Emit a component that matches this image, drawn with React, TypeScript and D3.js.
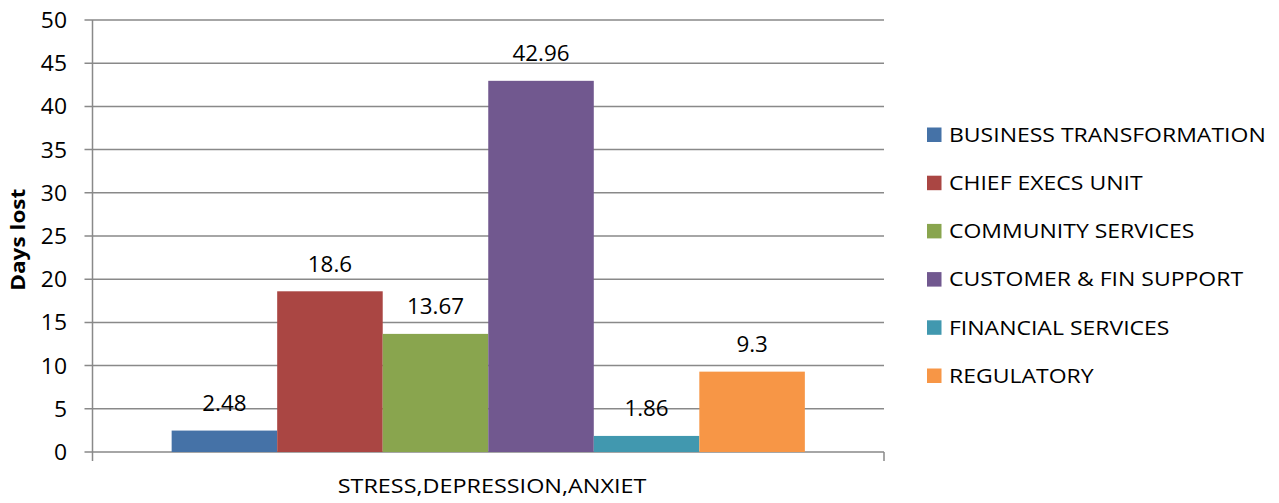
import React from "react";
import * as d3 from "d3";

// Sickness absence: days lost to stress, depression and anxiety, by service area
const category = "STRESS,DEPRESSION,ANXIET";
const departments = [
  "BUSINESS TRANSFORMATION",
  "CHIEF EXECS UNIT",
  "COMMUNITY SERVICES",
  "CUSTOMER & FIN SUPPORT",
  "FINANCIAL SERVICES",
  "REGULATORY",
];
const daysLost = [2.48, 18.6, 13.67, 42.96, 1.86, 9.3];
const valueLabels = ["2.48", "18.6", "13.67", "42.96", "1.86", "9.3"];
const yTicks = [0, 5, 10, 15, 20, 25, 30, 35, 40, 45, 50];
const colors = ["#4572A7", "#AA4643", "#89A54E", "#71588F", "#4198AF", "#F79646"];

const W = 1279;
const H = 503;
const plot = { left: 92.5, right: 884, top: 20, bottom: 452 };
const FONT = "'Open Sans', 'Noto Sans', sans-serif";
const GRID = "#898989";

// Text widened along its own baseline direction
function WideText({
  x,
  y,
  sx,
  rotate = 0,
  anchor = "start",
  size,
  weight = "normal",
  children,
}: {
  x: number;
  y: number;
  sx: number;
  rotate?: number;
  anchor?: "start" | "middle" | "end";
  size: number;
  weight?: string;
  children: React.ReactNode;
}) {
  return (
    <text
      transform={`translate(${x},${y}) rotate(${rotate}) scale(${sx},1)`}
      textAnchor={anchor}
      fontSize={size}
      fontWeight={weight}
      fill="#000"
    >
      {children}
    </text>
  );
}

export default function App() {
  const y = d3.scaleLinear().domain([0, 50]).range([plot.bottom, plot.top]);

  // One category band; bars sit in the middle with a 150% gap split on both sides
  const x0 = d3.scaleBand<string>().domain([category]).range([plot.left, plot.right]);
  const groupW = x0.bandwidth() / (1 + 1.5 / departments.length);
  const groupStart = (x0(category) ?? 0) + (x0.bandwidth() - groupW) / 2;
  const x1 = d3
    .scaleBand<string>()
    .domain(departments)
    .range([groupStart, groupStart + groupW])
    .padding(0);

  const legendX = 927;
  const legendY = d3.scalePoint<string>().domain(departments).range([134.5, 375.5]);

  return (
    <svg
      width={W}
      height={H}
      style={{ position: "absolute", left: 0, top: 0, background: "#fff" }}
      fontFamily={FONT}
    >
      {/* horizontal gridlines with left tick marks */}
      {yTicks.map((t) => (
        <g key={t}>
          <line
            x1={plot.left - 8}
            x2={plot.right}
            y1={y(t)}
            y2={y(t)}
            stroke={GRID}
            strokeWidth={1.5}
          />
          <WideText x={67} y={y(t) + 8} sx={1.04} anchor="end" size={22}>
            {t}
          </WideText>
        </g>
      ))}

      {/* value axis */}
      <line x1={plot.left} x2={plot.left} y1={plot.top} y2={plot.bottom + 9} stroke={GRID} strokeWidth={1.5} />
      {/* category axis end tick */}
      <line x1={plot.right} x2={plot.right} y1={plot.bottom} y2={plot.bottom + 9} stroke={GRID} strokeWidth={1.5} />

      {/* bars */}
      {departments.map((d, i) => (
        <rect
          key={d}
          x={x1(d)}
          y={y(daysLost[i])}
          width={x1.bandwidth()}
          height={y(0) - y(daysLost[i])}
          fill={colors[i]}
        />
      ))}

      {/* data labels */}
      {departments.map((d, i) => (
        <WideText
          key={d}
          x={(x1(d) ?? 0) + x1.bandwidth() / 2}
          y={y(daysLost[i]) - 19.5}
          sx={1.04}
          anchor="middle"
          size={21.5}
        >
          {valueLabels[i]}
        </WideText>
      ))}

      {/* category label */}
      <WideText x={492} y={492.5} sx={1.17} anchor="middle" size={20}>
        {category}
      </WideText>

      {/* value axis title */}
      <WideText x={24.5} y={239.7} sx={1.13} rotate={-90} anchor="middle" size={20} weight="bold">
        Days lost
      </WideText>

      {/* legend */}
      {departments.map((d, i) => (
        <g key={d} transform={`translate(${legendX}, ${legendY(d)})`}>
          <rect x={0} y={-7} width={14.5} height={14.5} fill={colors[i]} />
          <WideText x={22} y={7.3} sx={1.15} size={20}>
            {d}
          </WideText>
        </g>
      ))}
    </svg>
  );
}
